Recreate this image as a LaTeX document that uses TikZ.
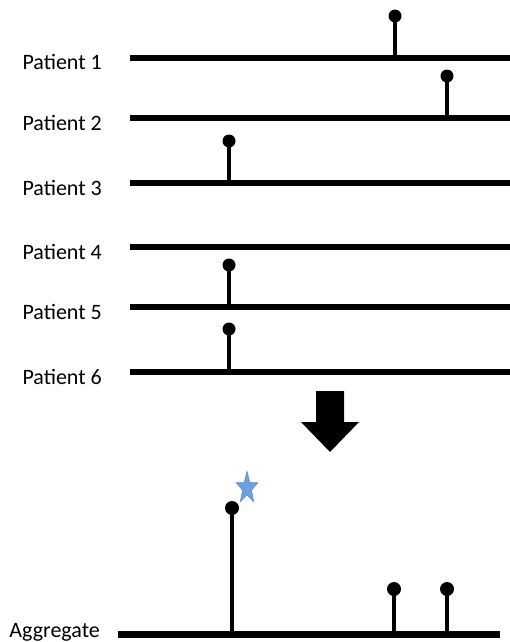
\documentclass[tikz,border=0pt]{standalone}
\usepackage{fontspec}
\setmainfont{Carlito}
\begin{document}
\begin{tikzpicture}[x=1pt,y=-1pt,
  lbl/.style={anchor=base east,inner sep=0pt,font=\fontsize{22}{26}\selectfont},
  track/.style={line width=6pt},
  stem/.style={line width=3.5pt},
  ball/.style={circle,fill=black,inner sep=0pt,minimum size=13pt}]
\definecolor{starblue}{RGB}{110,160,222}
\definecolor{starline}{RGB}{90,135,200}
\useasboundingbox (0,0) rectangle (510,642);
% patient tracks
\foreach \i/\y in {1/58,2/118,3/183,4/247,5/307,6/372}{
  \coordinate (L\i) at (130,\y);
  \coordinate (R\i) at (512,\y);
  \node[lbl] (P\i) at (102,\y+12) {Patient \i};
  \draw[track] (L\i) -- (R\i);
}
% lollipops
\foreach \n/\x/\y/\by in {a/395/58/16,b/447/118/76,c/229/183/141,d/229/307/265,e/229/372/329}{
  \coordinate (s\n) at (\x,\y);
  \node[ball] (b\n) at (\x,\by) {};
  \draw[stem] (s\n) -- (b\n.center);
}
% arrow
\fill[black] (316,391) -- (344,391) -- (344,422) -- (359,422) -- (330,452) -- (301,422) -- (316,422) -- cycle;
% aggregate
\coordinate (LA) at (118,634);
\coordinate (RA) at (500,634);
\node[lbl] (PA) at (100,637) {Aggregate};
\draw[line width=7pt] (LA) -- (RA);
\foreach \n/\x/\by in {f/232/508,g/394/589,h/447/589}{
  \coordinate (s\n) at (\x,634);
  \node[ball,minimum size=14pt] (b\n) at (\x,\by) {};
  \draw[stem] (s\n) -- (b\n.center);
}
% star
\begin{scope}[shift={(247,488)}]
\coordinate (st) at (0,0);
\filldraw[fill=starblue,draw=starline,line width=0.4pt]
  ({11.5*cos(90)},{-17*sin(90)})
  \foreach \k in {0,...,4}{
    -- ({4.8*cos(126+72*\k)},{-7.1*sin(126+72*\k)})
    -- ({11.5*cos(162+72*\k)},{-17*sin(162+72*\k)})
  } -- cycle;
\end{scope}
\end{tikzpicture}
\end{document}
